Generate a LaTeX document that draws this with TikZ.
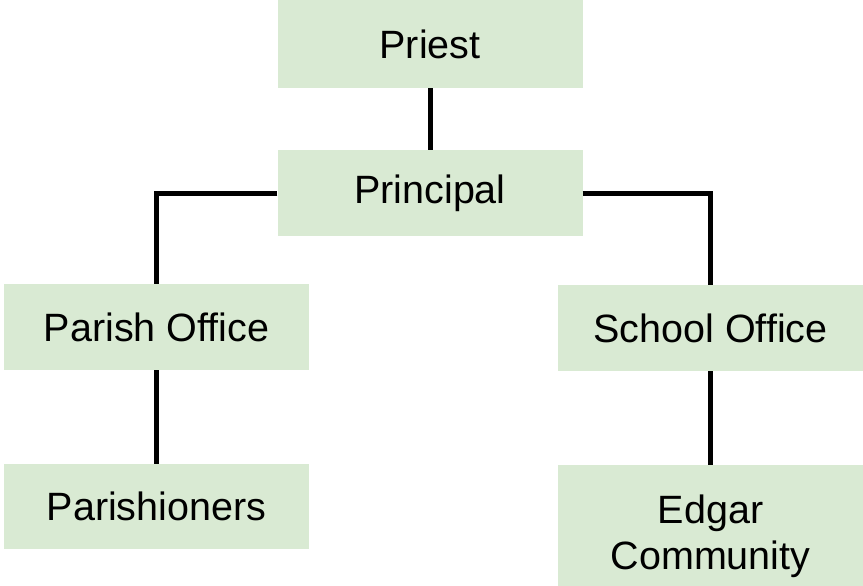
\documentclass[tikz,border=0pt]{standalone}
\usepackage{fontspec}
\setmainfont{Liberation Sans}
\definecolor{boxgreen}{HTML}{D9EAD3}
\begin{document}
\begin{tikzpicture}[x=1pt,y=-1pt,
  orgbox/.style={rectangle, fill=boxgreen, inner sep=0pt, minimum width=305pt,
    minimum height=86pt, align=center, font=\fontsize{39.5}{46}\selectfont},
  link/.style={draw=black, line width=5pt}]
  \clip (0,0) rectangle (863,586);
  \fill[white] (0,0) rectangle (863,586);

  % boxes of the chart
  \node[orgbox, minimum height=88pt] (priest)    at (430,44)    {Priest};
  \node[orgbox]                     (principal) at (430,193)   {Principal};
  \node[orgbox]                     (parish)    at (156.5,327) {Parish Office};
  \node[orgbox]                     (school)    at (710.5,328) {School Office};
  \node[orgbox, minimum height=85pt] (members)  at (156.5,506.5) {Parishioners};
  \node[orgbox, minimum height=142pt] (edgar)   at (710.5,536) {Edgar\\Community};

  % connectors
  \draw[link] (priest.south) -- (principal.north);
  \draw[link] (principal.west) -| (parish.north);
  \draw[link] (principal.east) -| (school.north);
  \draw[link] (parish.south) -- (members.north);
  \draw[link] (school.south) -- (edgar.north);
\end{tikzpicture}
\end{document}
